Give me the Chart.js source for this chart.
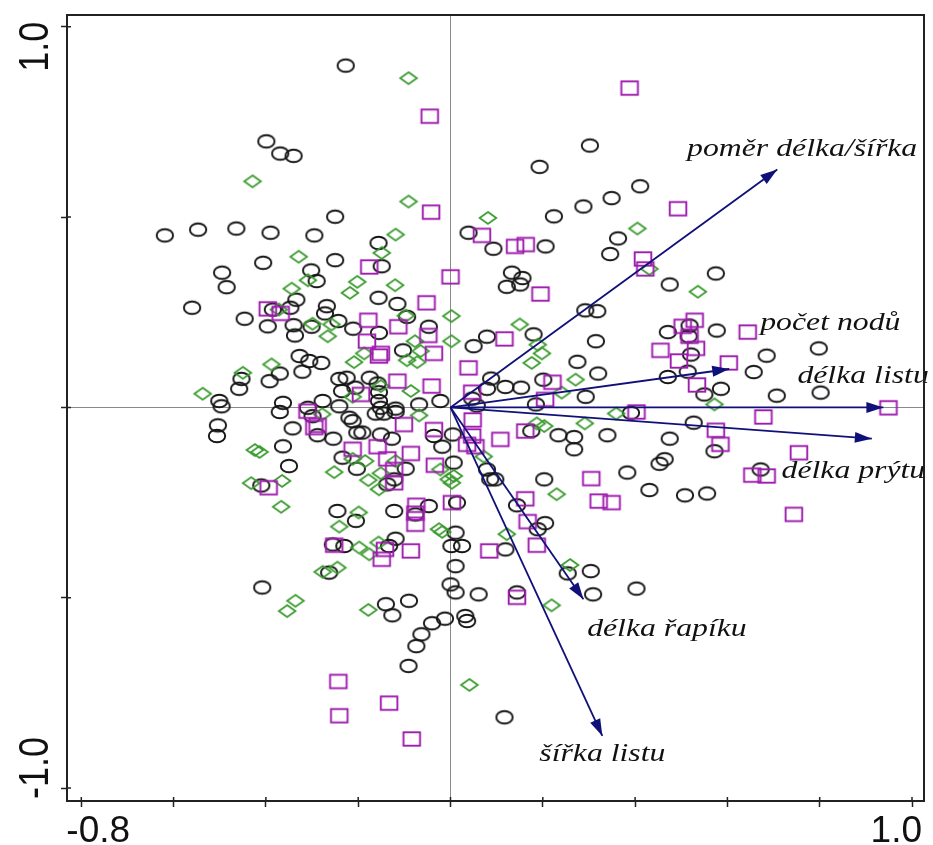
<!DOCTYPE html>
<html><head><meta charset="utf-8">
<script src="https://cdn.jsdelivr.net/npm/chart.js@4.4.1/dist/chart.umd.min.js"></script>
<style>html,body{margin:0;padding:0;background:#fff}#wrap{width:933px;height:845px}</style>
</head><body><div id="wrap"><canvas id="c" width="933" height="845"></canvas></div>
<script>
// ---- data ----
const circlesX = [-0.227,-0.399,-0.369,-0.340,-0.250,0.302,0.193,0.411,0.349,0.288,0.224,-0.619,-0.547,-0.464,-0.390,-0.295,-0.156,-0.406,-0.250,-0.149,-0.495,-0.302,-0.290,-0.485,-0.156,-0.115,-0.560,-0.334,-0.347,-0.385,-0.268,-0.272,-0.243,-0.446,-0.396,-0.340,-0.337,-0.301,-0.211,-0.155,-0.094,-0.047,-0.103,-0.327,-0.306,-0.280,-0.321,-0.370,-0.392,-0.453,-0.458,-0.241,-0.225,-0.175,-0.158,-0.235,-0.206,-0.155,-0.501,-0.496,-0.363,-0.277,-0.241,-0.155,-0.119,-0.068,-0.022,0.039,0.093,0.206,0.363,0.346,0.133,0.156,0.122,0.151,0.475,0.575,0.292,0.318,0.079,0.050,0.180,0.315,0.471,0.518,0.577,0.521,0.516,0.685,0.798,0.275,0.320,0.088,0.119,0.153,0.079,0.201,0.471,0.514,0.657,0.586,0.550,0.293,0.707,0.802,0.047,0.057,0.185,0.391,0.527,0.175,0.234,0.268,0.268,0.340,0.475,0.572,0.005,0.007,0.079,0.086,0.097,0.203,0.383,0.464,0.453,0.431,0.508,0.556,0.672,0.014,0.144,0.205,0.189,0.011,0.025,0.119,0.011,0.254,0.304,0.403,0.309,0.011,0.061,0.144,0.032,0.036,0.117,-0.504,-0.506,-0.370,-0.342,-0.363,-0.350,-0.309,-0.299,-0.219,-0.212,-0.202,-0.191,-0.288,-0.254,-0.151,-0.162,-0.144,-0.119,-0.151,-0.127,-0.036,-0.018,-0.234,-0.203,-0.410,-0.097,-0.137,-0.122,-0.245,-0.205,-0.122,-0.047,-0.076,-0.119,-0.133,0.002,-0.255,-0.230,-0.263,-0.408,0.000,-0.140,-0.090,-0.126,-0.040,-0.012,-0.063,-0.074,-0.091];
const circlesY = [0.898,0.699,0.667,0.661,0.501,0.688,0.632,0.581,0.550,0.528,0.502,0.452,0.467,0.470,0.459,0.452,0.432,0.380,0.387,0.371,0.354,0.360,0.332,0.316,0.288,0.272,0.262,0.283,0.262,0.257,0.266,0.247,0.227,0.233,0.213,0.216,0.189,0.212,0.207,0.196,0.238,0.212,0.150,0.135,0.122,0.117,0.094,0.089,0.069,0.075,0.049,0.075,0.078,0.078,0.063,0.043,0.052,0.040,0.017,0.003,0.012,0.017,0.003,0.017,-0.003,0.008,0.017,0.459,0.417,0.423,0.444,0.403,0.354,0.340,0.317,0.323,0.323,0.352,0.255,0.253,0.186,0.161,0.192,0.174,0.198,0.215,0.202,0.139,0.187,0.136,0.155,0.120,0.089,0.076,0.054,0.052,0.049,0.073,0.080,0.094,0.093,0.049,0.034,0.028,0.031,0.039,0.023,0.005,0.008,-0.014,-0.040,-0.062,-0.073,-0.078,-0.110,-0.073,-0.082,-0.115,-0.071,-0.145,-0.163,-0.189,-0.189,-0.189,-0.171,-0.136,-0.148,-0.217,-0.231,-0.226,-0.163,-0.250,-0.257,-0.304,-0.320,-0.329,-0.364,-0.373,-0.417,-0.436,-0.430,-0.476,-0.491,-0.486,-0.491,-0.486,-0.548,-0.561,-0.814,-0.047,-0.075,-0.012,-0.055,-0.102,-0.154,-0.001,-0.023,-0.027,-0.036,-0.066,-0.066,-0.073,-0.082,-0.001,-0.016,-0.016,-0.012,-0.071,-0.082,-0.075,-0.103,-0.132,-0.161,-0.205,-0.161,-0.202,-0.189,-0.272,-0.298,-0.272,-0.259,-0.281,-0.345,-0.364,-0.364,-0.360,-0.364,-0.434,-0.473,-0.465,-0.517,-0.508,-0.546,-0.567,-0.555,-0.596,-0.627,-0.679];

const diamondsX = [-0.091,-0.429,-0.091,0.081,-0.119,-0.329,-0.149,-0.309,-0.344,-0.202,-0.218,-0.120,-0.372,-0.097,0.002,-0.299,-0.258,-0.266,0.002,-0.077,-0.187,-0.209,-0.094,-0.072,-0.065,-0.388,-0.450,-0.537,-0.151,-0.086,-0.212,0.405,0.431,0.536,0.150,0.189,0.198,0.176,0.271,0.241,0.572,0.359,0.291,0.187,0.203,0.072,0.007,0.230,0.122,0.259,0.219,0.041,-0.424,-0.414,-0.432,-0.365,-0.367,-0.252,-0.185,-0.212,-0.178,-0.151,-0.155,-0.119,-0.022,-0.004,0.003,-0.199,-0.241,-0.156,-0.198,-0.176,-0.025,-0.018,-0.277,-0.245,-0.278,-0.068,-0.336,-0.354,-0.178];
const diamondsY = [0.865,0.594,0.541,0.498,0.454,0.396,0.406,0.334,0.312,0.330,0.301,0.321,0.257,0.241,0.240,0.220,0.218,0.187,0.174,0.174,0.142,0.119,0.124,0.119,0.148,0.113,0.091,0.036,0.056,0.043,0.028,0.470,0.364,0.304,0.218,0.165,0.142,0.117,0.073,0.039,0.008,-0.016,-0.042,-0.042,-0.049,-0.129,-0.180,-0.228,-0.333,-0.414,-0.520,-0.729,-0.112,-0.117,-0.199,-0.193,-0.261,-0.170,-0.141,-0.135,-0.191,-0.173,-0.215,-0.141,-0.163,-0.189,-0.198,-0.276,-0.313,-0.355,-0.368,-0.386,-0.320,-0.327,-0.432,-0.421,-0.018,-0.021,-0.508,-0.535,-0.532];

const squaresX = [-0.045,-0.042,0.388,0.493,-0.176,0.000,-0.396,-0.368,-0.052,-0.178,-0.113,-0.181,-0.048,-0.036,-0.155,-0.151,-0.115,-0.041,-0.194,-0.310,0.068,0.140,0.163,0.417,0.422,0.195,0.529,0.503,0.518,0.644,0.117,0.455,0.532,0.495,0.603,0.039,0.534,0.221,0.047,0.205,0.949,0.403,0.678,0.048,0.047,0.036,0.054,0.108,0.162,0.575,0.585,0.755,0.654,0.685,0.305,0.162,0.321,0.349,0.744,0.167,0.187,0.084,0.003,0.144,-0.288,-0.295,-0.212,-0.158,-0.137,-0.101,-0.086,-0.036,-0.034,-0.122,-0.122,-0.394,-0.074,-0.076,-0.076,-0.252,-0.142,-0.149,-0.086,-0.243,-0.133,-0.241,-0.084];
const squaresY = [0.765,0.513,0.839,0.522,0.369,0.343,0.259,0.247,0.275,0.229,0.212,0.174,0.189,0.142,0.135,0.142,0.069,0.056,0.034,-0.010,0.452,0.423,0.428,0.390,0.364,0.298,0.229,0.213,0.187,0.198,0.180,0.150,0.155,0.122,0.117,0.104,0.059,0.066,0.040,0.021,-0.001,-0.012,-0.025,-0.033,-0.075,-0.097,-0.103,-0.084,-0.062,-0.060,-0.097,-0.119,-0.178,-0.180,-0.187,-0.240,-0.246,-0.250,-0.281,-0.300,-0.362,-0.377,-0.250,-0.499,-0.047,-0.053,-0.110,-0.103,-0.135,-0.045,-0.121,-0.058,-0.152,-0.163,-0.198,-0.211,-0.257,-0.278,-0.307,-0.362,-0.373,-0.399,-0.377,-0.720,-0.777,-0.810,-0.871];

const arrowNames = ["poměr délka/šířka","počet nodů","délka listu","délka prýtu","délka řapíku","šířka listu"];
const arrowX = [0.708, 0.604, 0.938, 0.913, 0.288, 0.329];
const arrowY = [0.625, 0.101, 0.000, -0.082, -0.504, -0.863];

const xLabeledTicks = [-0.8, 1.0];
const yLabeledTicks = [-1.0, 1.0];

// ---- layout / style (not data) ----
const labelAnchorX = [0.762, 0.823, 0.894, 0.873, 0.469, 0.329];
const labelAnchorY = [0.677, 0.220, 0.081, -0.168, -0.583, -0.911];
const NAVY = '#10107a';

function marker(kind){
  const c = document.createElement('canvas');
  c.width = 22; c.height = 18;
  const g = c.getContext('2d');
  const cx = 11, cy = 9;
  g.lineWidth = 1.9;
  if (kind === 'circle'){
    g.strokeStyle = '#151515';
    g.beginPath(); g.ellipse(cx, cy, 8.2, 6.3, 0, 0, Math.PI*2); g.stroke();
  } else if (kind === 'diamond'){
    g.strokeStyle = '#3a9b2e';
    g.lineWidth = 1.8;
    g.beginPath(); g.moveTo(cx, cy-6); g.lineTo(cx+8.3, cy); g.lineTo(cx, cy+6); g.lineTo(cx-8.3, cy); g.closePath(); g.stroke();
  } else {
    g.strokeStyle = '#9e1cae';
    g.strokeRect(cx-8.3, cy-6.7, 16.6, 13.4);
  }
  return c;
}

function pts(xs, ys){ return xs.map((x,i)=>({x:x, y:ys[i]})); }
const near = (a,b)=>Math.abs(a-b)<1e-6;

const datasets = [];
arrowNames.forEach((n,i)=>{
  datasets.push({label:n, data:[{x:0,y:0},{x:arrowX[i],y:arrowY[i]}], showLine:true,
    borderColor:NAVY, borderWidth:1.8, pointRadius:0, order:0});
});
datasets.push({label:'circles', data:pts(circlesX,circlesY), pointStyle:marker('circle'), pointRadius:8, order:3});
datasets.push({label:'diamonds', data:pts(diamondsX,diamondsY), pointStyle:marker('diamond'), pointRadius:8, order:2});
datasets.push({label:'squares', data:pts(squaresX,squaresY), pointStyle:marker('square'), pointRadius:8, order:1});

const overlay = {
  id:'overlay',
  afterDatasetsDraw(chart){
    const ctx = chart.ctx, xs = chart.scales.x, ys = chart.scales.y, a = chart.chartArea;
    ctx.save();
    // arrowheads
    const x0 = xs.getPixelForValue(0), y0 = ys.getPixelForValue(0);
    ctx.fillStyle = NAVY;
    for (let i=0;i<arrowX.length;i++){
      const x1 = xs.getPixelForValue(arrowX[i]), y1 = ys.getPixelForValue(arrowY[i]);
      const ang = Math.atan2(y1-y0, x1-x0), L = 17, W = 5.5;
      const bx = x1 - L*Math.cos(ang), by = y1 - L*Math.sin(ang);
      ctx.beginPath(); ctx.moveTo(x1,y1);
      ctx.lineTo(bx + W*Math.sin(ang), by - W*Math.cos(ang));
      ctx.lineTo(bx - W*Math.sin(ang), by + W*Math.cos(ang));
      ctx.closePath(); ctx.fill();
    }
    // arrow labels
    ctx.fillStyle = '#111';
    ctx.font = 'italic 25px "Liberation Serif", "Times New Roman", serif';
    ctx.textAlign = 'center'; ctx.textBaseline = 'middle';
    for (let i=0;i<arrowNames.length;i++){
      const px = xs.getPixelForValue(labelAnchorX[i]), py = ys.getPixelForValue(labelAnchorY[i]);
      ctx.save(); ctx.translate(px, py); ctx.scale(1.27, 1);
      ctx.fillText(arrowNames[i], 0, 0); ctx.restore();
    }
    // frame (top and right)
    ctx.strokeStyle = '#222'; ctx.lineWidth = 2;
    ctx.beginPath();
    ctx.moveTo(a.left, a.top); ctx.lineTo(a.right, a.top); ctx.lineTo(a.right, a.bottom);
    ctx.stroke();
    // inner halves of tick marks (ticks cross the axis lines)
    ctx.lineWidth = 1.5;
    ctx.beginPath();
    xs.ticks.forEach(t=>{ const p = xs.getPixelForValue(t.value); ctx.moveTo(p, a.bottom); ctx.lineTo(p, a.bottom-4); });
    ys.ticks.forEach(t=>{ const p = ys.getPixelForValue(t.value); ctx.moveTo(a.left, p); ctx.lineTo(a.left+4, p); });
    ctx.stroke();
    // tick labels for the labelled ticks
    ctx.fillStyle = '#111';
    ctx.font = '37px "Liberation Sans", Arial, sans-serif';
    ctx.textBaseline = 'alphabetic';
    xLabeledTicks.forEach((v,i)=>{
      const p = xs.getPixelForValue(v);
      const first = (i === 0);
      ctx.textAlign = first ? 'left' : 'right';
      ctx.fillText(v.toFixed(1), first ? p - 15 : p + 10, 842);
    });
    ctx.font = '36px "Liberation Sans Narrow", "Liberation Sans", Arial, sans-serif';
    ctx.textBaseline = 'middle';
    yLabeledTicks.forEach((v)=>{
      const p = ys.getPixelForValue(v);
      const top = v > 0;
      ctx.save();
      ctx.translate(36, top ? p - 5 : p + 11);
      ctx.scale(1.2, 1);
      ctx.rotate(-Math.PI/2);
      ctx.textAlign = top ? 'right' : 'left';
      ctx.fillText(v.toFixed(1), 0, 0);
      ctx.restore();
    });
    ctx.restore();
  }
};

const zeroGrid = (c)=> (c.tick && near(c.tick.value,0)) ? '#8a8a8a' : 'rgba(0,0,0,0)';

new Chart(document.getElementById('c'), {
  type:'scatter',
  data:{datasets},
  plugins:[overlay],
  options:{
    responsive:false, animation:false, devicePixelRatio:1,
    layout:{padding:{top:15, right:6, left:0, bottom:0}},
    plugins:{legend:{display:false}, tooltip:{enabled:false}},
    scales:{
      x:{type:'linear', min:-0.831, max:1.026,
        afterFit:(s)=>{ s.height = 44; },
        border:{color:'#222', width:2},
        grid:{color:zeroGrid, lineWidth:1, borderDash:[1,2], tickColor:'#222', tickWidth:1.5, tickLength:6, tickBorderDash:[]},
        ticks:{stepSize:0.2, includeBounds:false, autoSkip:false, maxRotation:0, font:{size:10},
          callback:()=>''}
      },
      y:{type:'linear', min:-1.034, max:1.031,
        afterFit:(s)=>{ s.width = 67; },
        border:{color:'#222', width:2},
        grid:{color:zeroGrid, lineWidth:1, borderDash:[1,2], tickColor:'#222', tickWidth:1.5, tickLength:6, tickBorderDash:[]},
        ticks:{stepSize:0.5, includeBounds:false, autoSkip:false, font:{size:10},
          callback:()=>''}
      }
    }
  }
});
</script></body></html>
